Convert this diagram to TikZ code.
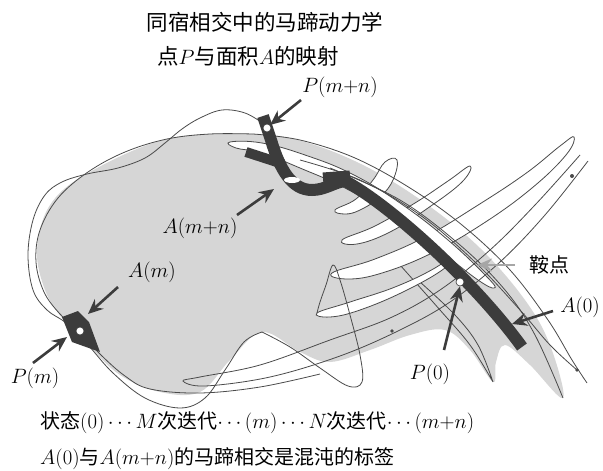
\documentclass[tikz,border=0pt]{standalone}
\usepackage{fontspec}
\newfontfamily\cjk{Noto Sans CJK SC}
\usetikzlibrary{arrows.meta}
\definecolor{blk}{HTML}{3C3C3C}
\definecolor{gry}{HTML}{D6D6D6}
\definecolor{ln}{HTML}{4A4A4A}
\newcommand\mth[1]{{\fontsize{22.5}{25}\selectfont$#1$}}
\newcommand\mtt[1]{{\fontsize{22}{24}\selectfont$#1$}}
\tikzset{
  thin line/.style={draw=ln, line width=0.8pt},
  lobe/.style={thin line, fill=white},
  gstrip/.style={thin line, fill=gry},
  pointer/.style={draw=blk, line width=2.6pt, -{Stealth[length=15pt,width=13pt,inset=5pt]}},
  lbl/.style={inner sep=0pt, font=\fontsize{21}{23}\selectfont},
  ctxt/.style={inner sep=0pt, font=\cjk\fontsize{20}{23}\selectfont},
  ttxt/.style={inner sep=0pt, font=\cjk\fontsize{21.5}{24}\selectfont},
  hole/.style={circle, fill=white, draw=blk, line width=0.6pt, inner sep=0pt, minimum size=8pt}
}
\begin{document}
\begin{tikzpicture}[x=1pt,y=-1pt]
\useasboundingbox (0,0) rectangle (603,471);
% gray blob
\fill[gry] plot[smooth cycle, tension=0.6] coordinates {(37,250) (50,205) (88,173) (167,139) (253,134) (305,142) (365,166) (425,203) (480,248) (525,300) (550,345) (563,398) (530,365) (505,345) (496,362) (493,382) (470,350) (445,330) (410,335) (370,350) (330,362) (300,352) (262,332) (230,360) (200,392) (160,392) (120,375) (88,345) (62,318) (45,290)};
% gray strip tongue lower (below band)
\filldraw[gstrip] plot[smooth, tension=0.6] coordinates {(400,265) (440,310) (470,345) (493,382)} -- plot[smooth, tension=0.6] coordinates {(493,382) (478,345) (455,315) (420,282)};
% white tongues
\filldraw[lobe] plot[smooth cycle, tension=0.7] coordinates {(335,210) (356,199) (373,180) (385,162) (397,160) (393,180) (380,197) (360,210) (345,214)};
\filldraw[lobe] plot[smooth cycle, tension=0.7] coordinates {(342,240) (375,226) (415,203) (448,181) (470,166) (462,182) (428,208) (390,232) (357,244)};
\filldraw[lobe] plot[smooth cycle, tension=0.7] coordinates {(332,273) (375,259) (425,237) (475,207) (525,174) (560,146) (574,137) (566,155) (532,188) (484,223) (432,253) (382,273) (348,279)};
\filldraw[lobe] plot[smooth cycle, tension=0.7] coordinates {(317,313) (350,302) (395,287) (435,268) (460,250) (445,268) (405,291) (360,310) (330,317)};
% white strip above band
\filldraw[lobe] plot[smooth cycle, tension=0.7] coordinates {(230,142) (262,143) (305,155) (352,174) (400,203) (448,240) (488,278) (494,288) (478,280) (440,251) (392,216) (345,188) (300,168) (262,153) (236,148)};
% long tongue
\draw[thin line] plot[smooth, tension=0.6] coordinates {(580,155) (535,205) (490,250) (440,290) (390,318) (330,340) (260,365) (200,377) (183,381) (205,386) (270,377) (340,356) (400,330) (450,302) (500,262) (545,215) (588,161)};
% vertical lobe
\draw[thin line] plot[smooth, tension=0.6] coordinates {(262,332) (290,347) (320,368) (348,386) (362,382) (360,355) (350,315) (340,280) (333,265) (326,285) (320,302) (317,313)};
% lines parallel to band
\draw[thin line] plot[smooth, tension=0.6] coordinates {(253,134) (300,140) (355,158) (410,188) (462,225) (510,270) (548,320) (572,360) (587,383)};
\draw[thin line] plot[smooth, tension=0.6] coordinates {(300,160) (360,180) (420,215) (475,262) (520,310) (550,345) (577,370)};
\draw[thin line] plot[smooth, tension=0.6] coordinates {(330,168) (400,200) (460,245) (505,290) (535,335) (563,398)};
% wavy curve W
\draw[thin line] plot[smooth, tension=0.6] coordinates {(264,124) (245,113) (222,110) (200,118) (182,129) (165,143) (145,158) (118,168) (87,174) (62,182) (45,195) (33,220) (28,255) (33,290) (47,310) (66,323) (88,345) (113,373) (145,398) (180,408) (205,398) (225,370) (244,342) (262,332)};
% S left part
\draw[thin line] plot[smooth, tension=0.6] coordinates {(253,134) (210,134) (167,139) (125,152) (88,172) (58,198) (40,230) (36,262) (44,292) (60,314) (80,332) (100,354) (125,376) (150,389) (200,393) (260,387) (320,374)};
% black band + hook
\draw[blk, line width=12pt] (263,116) -- (271,140) .. controls (280,170) and (292,190) .. (312,190) .. controls (325,190) and (335,182) .. (345,181) .. controls (390,205) and (475,282) .. (522,347);
\draw[blk, line width=10pt] (246,152) -- (283,164);
\draw[blk, line width=11pt] (323,178) -- (350,176);
\fill[white] (292,180) ellipse [x radius=8pt, y radius=3pt];
\fill[blk] (62,317) -- (78,311) -- (89,322) -- (100,352) -- (72,342) -- cycle;
\node[hole] (pmn) at (267,128) {};
\node[hole] (pm) at (80,331) {};
\node[hole] (p0) at (460,282) {};
% small markers
\fill[ln] (572,176) circle (2pt);
\fill[ln] (392,331) circle (1.8pt);
\fill[ln] (577,370) circle (1.8pt);
% labels
\node[ttxt] (t1) at (265,22) {同宿相交中的马蹄动力学};
\node[ttxt] (t2) at (248,56) {点\mtt{P}与面积\mtt{A}的映射};
\node[lbl] (lpmn) at (340,87) {$P(m{+}n)$};
\node[lbl] (lamn) at (200,228) {$A(m{+}n)$};
\node[lbl] (lam) at (152,272) {$A(m)$};
\node[lbl] (lpm) at (35,378) {$P(m)$};
\node[lbl] (lp0) at (430,374) {$P(0)$};
\node[lbl] (la0) at (580,307) {$A(0)$};
\node[ctxt] (lsad) at (549,265) {鞍点};
\coordinate (amn) at (274,189);
\coordinate (am) at (88,314);
\coordinate (pmt) at (67,337);
\coordinate (a0) at (512,324);
\coordinate (sad) at (477,265);
\coordinate (sadt) at (515,265);
\draw[pointer] (301,100) -- (pmn.north east);
\draw[pointer] (237,215) -- (amn);
\draw[pointer] (118,287) -- (am);
\draw[pointer] (33,363) -- (pmt);
\draw[pointer] (444,350) -- (p0.south);
\draw[pointer] (553,311) -- (a0);
\draw[pointer, draw=gray!70] (sadt) -- (sad);
\node[ctxt, anchor=west] (b1) at (40,423) {状态\mth{(0)\cdots M}次迭代\mth{\cdots(m)\cdots N}次迭代\mth{\cdots(m{+}n)}};
\node[ctxt, anchor=west] (b2) at (40,459) {\mth{A(0)}与\mth{A(m{+}n)}的马蹄相交是混沌的标签};
\end{tikzpicture}
\end{document}
